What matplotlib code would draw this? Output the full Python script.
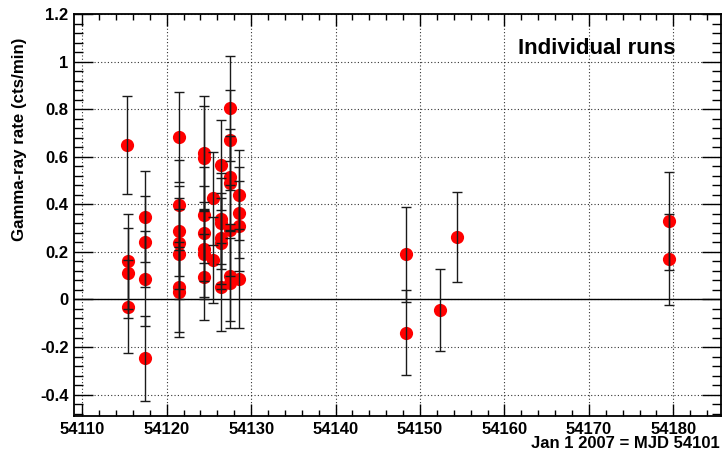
import matplotlib
matplotlib.use("Agg")
import matplotlib.pyplot as plt
from matplotlib.ticker import MultipleLocator

plt.rcParams['font.family'] = ['Liberation Sans', 'DejaVu Sans']

mjd = [54115.25, 54115.45, 54115.45, 54115.45,
       54117.43, 54117.43, 54117.43, 54117.43,
       54121.46, 54121.46, 54121.46, 54121.46, 54121.46, 54121.46, 54121.46,
       54124.42, 54124.42, 54124.42, 54124.42, 54124.42, 54124.42, 54124.42,
       54125.45, 54125.45,
       54126.43, 54126.43, 54126.43, 54126.43, 54126.43, 54126.43,
       54127.46, 54127.46, 54127.46, 54127.46, 54127.46, 54127.46, 54127.46,
       54128.52, 54128.52, 54128.52, 54128.52,
       54148.34, 54148.34,
       54152.37,
       54154.35,
       54179.50, 54179.50]
rate = [0.65, 0.16, 0.11, -0.03,
        0.348, 0.243, 0.088, -0.248,
        0.684, 0.397, 0.289, 0.236, 0.191, 0.053, 0.032,
        0.614, 0.593, 0.355, 0.278, 0.21, 0.19, 0.095,
        0.425, 0.165,
        0.565, 0.34, 0.32, 0.257, 0.236, 0.053,
        0.804, 0.67, 0.516, 0.488, 0.29, 0.10, 0.07,
        0.439, 0.365, 0.308, 0.088,
        0.19, -0.139,
        -0.043,
        0.262,
        0.33, 0.168]
rate_err = [0.205, 0.20, 0.19, 0.195,
            0.19, 0.19, 0.20, 0.18,
            0.19, 0.19, 0.19, 0.19, 0.19, 0.19, 0.19,
            0.24, 0.22, 0.20, 0.20, 0.20, 0.19, 0.18,
            0.196, 0.18,
            0.19, 0.19, 0.19, 0.19, 0.19, 0.185,
            0.22, 0.21, 0.20, 0.20, 0.19, 0.19, 0.19,
            0.19, 0.19, 0.19, 0.21,
            0.20, 0.18,
            0.172,
            0.19,
            0.206, 0.19]

fig = plt.figure(figsize=(7.22, 4.61), dpi=100)
ax = fig.add_axes([74/722, 45/461, 647/722, 402/461])

ax.set_xlim(54109.02, 54185.65)
ax.set_ylim(-0.49, 1.2)

ax.grid(True, which='major', linestyle=(0, (1, 2)), color='black', linewidth=0.8, alpha=0.8)
ax.axhline(0, color='black', linewidth=1.0, zorder=2)

ax.plot(mjd, rate, 'o', color='#ff0000', markersize=9.5, markeredgewidth=0, zorder=3)
ax.errorbar(mjd, rate, yerr=rate_err, fmt='none', ecolor='#1a1a1a', elinewidth=1.0,
            capsize=3.5, capthick=1.0, zorder=4)

ax.xaxis.set_major_locator(MultipleLocator(10))
ax.xaxis.set_minor_locator(MultipleLocator(2))
ax.yaxis.set_major_locator(MultipleLocator(0.2))
ax.yaxis.set_minor_locator(MultipleLocator(0.04))
ax.tick_params(axis='x', which='major', direction='in', length=8.5, width=1.0, top=True, labelsize=12, pad=4)
ax.tick_params(axis='x', which='minor', direction='in', length=4.3, width=1.0, top=True)
ax.tick_params(axis='y', which='major', direction='in', length=13.5, width=1.0, right=True, labelsize=12, pad=4)
ax.tick_params(axis='y', which='minor', direction='in', length=6.8, width=1.0, right=True)
for lab in ax.get_xticklabels() + ax.get_yticklabels():
    lab.set_fontweight('bold')

def yfmt(v, pos):
    s = ('%.1f' % v)
    if s in ('0.0', '-0.0'):
        return '0'
    if s.endswith('.0'):
        s = s[:-2]
    return s
ax.yaxis.set_major_formatter(matplotlib.ticker.FuncFormatter(yfmt))
ax.xaxis.set_major_formatter(matplotlib.ticker.FuncFormatter(lambda v, p: '%d' % round(v)))

for sp in ax.spines.values():
    sp.set_linewidth(1.3)

ax.set_ylabel('Gamma-ray rate (cts/min)', fontsize=12.2, fontweight='bold')
ax.yaxis.set_label_coords(-0.073, 0.689)
fig.text(720/722, 1 - 443/461, 'Jan 1 2007 = MJD 54101', ha='right', va='center',
         fontsize=12, fontweight='bold')
fig.text(597/722, 1 - 49/461, 'Individual runs', ha='center', va='center',
         fontsize=16, fontweight='bold')

fig.savefig('out.png', dpi=100)
